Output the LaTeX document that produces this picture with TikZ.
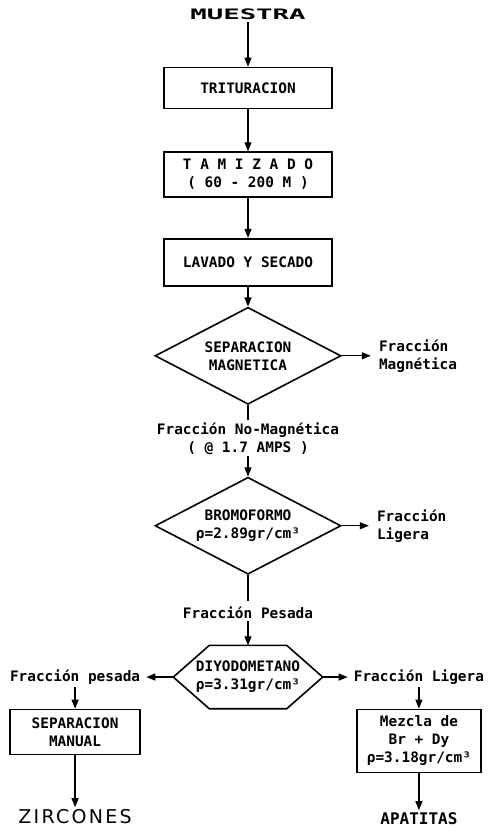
\documentclass[tikz,border=0pt]{standalone}
\usepackage{fontspec}
\usepackage{graphicx}
\setmainfont{DejaVu Sans}
\setmonofont{DejaVu Sans Mono}
\newfontfamily\widesans[LetterSpace=12]{DejaVu Sans}
\usetikzlibrary{arrows.meta,positioning,shapes.geometric}

\begin{document}
\begin{tikzpicture}[
  x=1pt, y=1pt,
  font=\fontsize{14.4}{18}\selectfont\ttfamily\bfseries,
  box/.style={draw, line width=1.6pt, align=center, inner sep=2pt,
    minimum width=168pt},
  decision/.style={draw, diamond, shape aspect=2, line width=1.6pt,
    align=center, inner sep=1pt, minimum width=186pt, minimum height=97pt},
  hexa/.style={align=center, inner sep=0pt,
    minimum width=149pt, minimum height=63pt},
  lbl/.style={align=left, inner sep=2pt},
  arr/.style={-{Triangle[length=9pt, width=7pt]}, line width=1.2pt},
  plain/.style={line width=1.2pt}
]
  \useasboundingbox (0,0) rectangle (498,-832);

  \node[lbl] (muestra) at (248,-14) {\scalebox{1.9}[1]{MUESTRA}};
  \node[box, minimum height=41pt] (trit) at (248,-88) {TRITURACION};
  \node[box, minimum height=45pt, below=42pt of trit] (tam)
    {T A M I Z A D O\\( 60 - 200 M )};
  \node[box, minimum height=47pt, below=40pt of tam] (lav) {LAVADO Y SECADO};
  \node[decision, below=20pt of lav] (sepmag) {SEPARACION\\MAGNETICA};
  \node[lbl, right=35pt of sepmag] (fmag) {Fracción\\Magnética};
  \node[lbl, align=center, below=15pt of sepmag] (nomag)
    {Fracción  No-Magnética\\( @ 1.7 AMPS )};
  \node[decision, below=20pt of nomag] (bromo) {BROMOFORMO\\ρ=2.89gr/cm³};
  \node[lbl, right=33pt of bromo] (flig) {Fracción\\Ligera};
  \node[lbl, below=30pt of bromo] (pesada) {Fracción  Pesada};
  \node[hexa, below=24pt of pesada] (diyodo) {DIYODOMETANO\\ρ=3.31gr/cm³};
  \draw[line width=1.6pt] (diyodo.west) -- ([xshift=36pt]diyodo.north west)
    -- ([xshift=-36pt]diyodo.north east) -- (diyodo.east)
    -- ([xshift=-36pt]diyodo.south east) -- ([xshift=36pt]diyodo.south west)
    -- cycle;
  \node[lbl, left=31pt of diyodo] (fpes) {Fracción pesada};
  \node[lbl, right=29pt of diyodo] (flig2) {Fracción Ligera};
  \node[box, minimum width=130pt, minimum height=45pt, below=22pt of fpes]
    (sepman) {SEPARACION\\MANUAL};
  \node[box, minimum width=124pt, minimum height=63pt, below=22pt of flig2]
    (mezcla) {Mezcla de\\Br + Dy\\ρ=3.18gr/cm³};
  \node[lbl, font=\fontsize{19}{22}\selectfont\widesans, below=52pt of sepman]
    (zirc) {ZIRCONES};
  \node[lbl, font=\fontsize{16}{18}\selectfont\ttfamily\bfseries,
    below=37pt of mezcla] (apat) {APATITAS};

  \draw[arr] (muestra) -- (trit);
  \draw[arr] (trit) -- (tam);
  \draw[arr] (tam) -- (lav);
  \draw[arr] (lav) -- (sepmag);
  \draw[arr, shorten >=6pt] (sepmag) -- (fmag);
  \draw[plain] (sepmag) -- (nomag);
  \draw[arr] (nomag) -- (bromo);
  \draw[arr, shorten >=6pt] (bromo) -- (flig);
  \draw[plain, shorten >=4pt] (bromo) -- (pesada);
  \draw[arr] (pesada) -- (diyodo);
  \draw[arr, shorten >=4pt] (diyodo) -- (fpes);
  \draw[arr, shorten >=4pt] (diyodo) -- (flig2);
  \draw[arr] (fpes) -- (sepman);
  \draw[arr] (flig2) -- (mezcla);
  \draw[arr] (sepman) -- (zirc);
  \draw[arr] (mezcla) -- (apat);
\end{tikzpicture}
\end{document}
